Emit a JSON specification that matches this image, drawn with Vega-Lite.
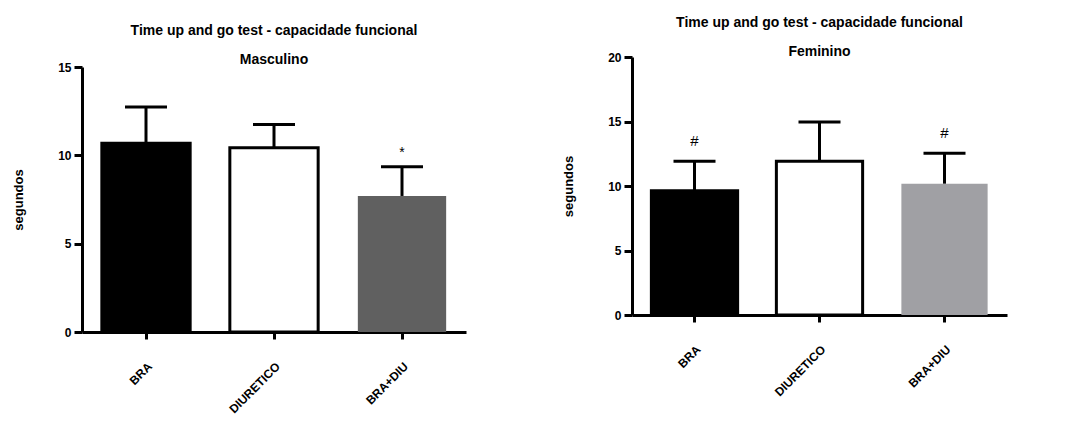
{
  "$schema": "https://vega.github.io/schema/vega-lite/v6.json",
  "background": "white",
  "padding": {"left": 12, "top": 16, "right": 5, "bottom": 5},
  "spacing": 166,
  "bounds": "flush",
  "config": {
    "font": "Liberation Sans",
    "view": {"stroke": null},
    "axis": {
      "grid": false,
      "domainColor": "black",
      "domainWidth": 3,
      "tickColor": "black",
      "tickWidth": 3,
      "labelColor": "black",
      "labelFont": "Liberation Sans",
      "labelFontWeight": "bold",
      "labelFontSize": 12,
      "titleColor": "black",
      "titleFont": "Liberation Sans",
      "titleFontWeight": "bold",
      "titleFontSize": 13,
      "zindex": 1
    },
    "title": {
      "font": "Liberation Sans",
      "fontWeight": "bold",
      "fontSize": 14,
      "color": "black",
      "anchor": "middle",
      "lineHeight": 29,
      "baseline": "bottom"
    }
  },
  "hconcat": [
    {
      "title": {"text": ["Time up and go test - capacidade funcional", "Masculino"], "offset": -10},
      "width": 384,
      "height": 275,
      "data": {
        "values": [
          {"grupo": "BRA", "media": 10.69, "superior": 12.73, "sig": ""},
          {"grupo": "DIURETICO", "media": 10.43, "superior": 11.74, "sig": ""},
          {"grupo": "BRA+DIU", "media": 7.7, "superior": 9.36, "sig": "*"}
        ]
      },
      "encoding": {
        "x": {
          "field": "grupo",
          "type": "nominal",
          "sort": null,
          "scale": {"paddingInner": 0.31, "paddingOuter": 0.155},
          "axis": {
            "title": null,
            "labelAngle": -45,
            "labelAlign": "right",
            "labelBaseline": "middle",
            "tickSize": 7,
            "labelPadding": 25,
            "labelOffset": 4
          }
        }
      },
      "layer": [
        {
          "mark": {"type": "bar", "strokeWidth": 3},
          "encoding": {
            "y": {
              "field": "media",
              "type": "quantitative",
              "title": "segundos",
              "scale": {"domain": [0, 15], "range": [275, 10], "nice": false, "zero": true},
              "axis": {
                "values": [0, 5, 10, 15],
                "tickSize": 8,
                "labelPadding": 3,
                "labelFlush": false,
                "labelOverlap": false,
                "titleX": -64,
                "titleY": 142.5,
                "titleAngle": -90,
                "titleAlign": "center",
                "titleBaseline": "middle"
              }
            },
            "fill": {
              "field": "grupo",
              "type": "nominal",
              "scale": {"domain": ["BRA", "DIURETICO", "BRA+DIU"], "range": ["#000000", "#ffffff", "#606060"]},
              "legend": null
            },
            "stroke": {
              "field": "grupo",
              "type": "nominal",
              "scale": {"domain": ["BRA", "DIURETICO", "BRA+DIU"], "range": ["#000000", "#000000", "transparent"]},
              "legend": null
            }
          }
        },
        {
          "mark": {"type": "rule", "strokeWidth": 3, "color": "black"},
          "encoding": {
            "y": {"field": "media", "type": "quantitative", "title": "segundos"},
            "y2": {"field": "superior"}
          }
        },
        {
          "mark": {"type": "tick", "thickness": 3, "size": 42, "color": "black", "opacity": 1},
          "encoding": {
            "y": {"field": "superior", "type": "quantitative", "title": "segundos"}
          }
        },
        {
          "transform": [{"filter": "datum.sig != ''"}],
          "mark": {"type": "text", "dy": -14, "fontSize": 14, "baseline": "middle", "color": "black", "font": "Liberation Sans"},
          "encoding": {
            "y": {"field": "superior", "type": "quantitative", "title": "segundos"},
            "text": {"field": "sig"}
          }
        }
      ]
    },
    {
      "title": {"text": ["Time up and go test - capacidade funcional", "Feminino"], "offset": -8},
      "width": 375,
      "height": 258,
      "data": {
        "values": [
          {"grupo": "BRA", "media": 9.64, "superior": 11.91, "sig": "#"},
          {"grupo": "DIURETICO", "media": 11.92, "superior": 14.96, "sig": ""},
          {"grupo": "BRA+DIU", "media": 10.18, "superior": 12.53, "sig": "#"}
        ]
      },
      "encoding": {
        "x": {
          "field": "grupo",
          "type": "nominal",
          "sort": null,
          "scale": {"paddingInner": 0.31, "paddingOuter": 0.155},
          "axis": {
            "title": null,
            "labelAngle": -45,
            "labelAlign": "right",
            "labelBaseline": "middle",
            "tickSize": 7,
            "labelPadding": 25,
            "labelOffset": 4
          }
        }
      },
      "layer": [
        {
          "mark": {"type": "bar", "strokeWidth": 3},
          "encoding": {
            "y": {
              "field": "media",
              "type": "quantitative",
              "title": "segundos",
              "scale": {"domain": [0, 20], "nice": false, "zero": true},
              "axis": {
                "values": [0, 5, 10, 15, 20],
                "tickSize": 8,
                "labelPadding": 3,
                "labelFlush": false,
                "labelOverlap": false,
                "titleX": -64,
                "titleY": 129,
                "titleAngle": -90,
                "titleAlign": "center",
                "titleBaseline": "middle"
              }
            },
            "fill": {
              "field": "grupo",
              "type": "nominal",
              "scale": {"domain": ["BRA", "DIURETICO", "BRA+DIU"], "range": ["#000000", "#ffffff", "#a0a0a4"]},
              "legend": null
            },
            "stroke": {
              "field": "grupo",
              "type": "nominal",
              "scale": {"domain": ["BRA", "DIURETICO", "BRA+DIU"], "range": ["#000000", "#000000", "transparent"]},
              "legend": null
            }
          }
        },
        {
          "mark": {"type": "rule", "strokeWidth": 3, "color": "black"},
          "encoding": {
            "y": {"field": "media", "type": "quantitative", "title": "segundos"},
            "y2": {"field": "superior"}
          }
        },
        {
          "mark": {"type": "tick", "thickness": 3, "size": 42, "color": "black", "opacity": 1},
          "encoding": {
            "y": {"field": "superior", "type": "quantitative", "title": "segundos"}
          }
        },
        {
          "transform": [{"filter": "datum.sig != ''"}],
          "mark": {"type": "text", "dy": -20, "fontSize": 15, "baseline": "middle", "color": "black", "font": "Liberation Sans"},
          "encoding": {
            "y": {"field": "superior", "type": "quantitative", "title": "segundos"},
            "text": {"field": "sig"}
          }
        }
      ]
    }
  ],
  "resolve": {"scale": {"fill": "independent", "stroke": "independent", "y": "independent", "x": "independent"}}
}
